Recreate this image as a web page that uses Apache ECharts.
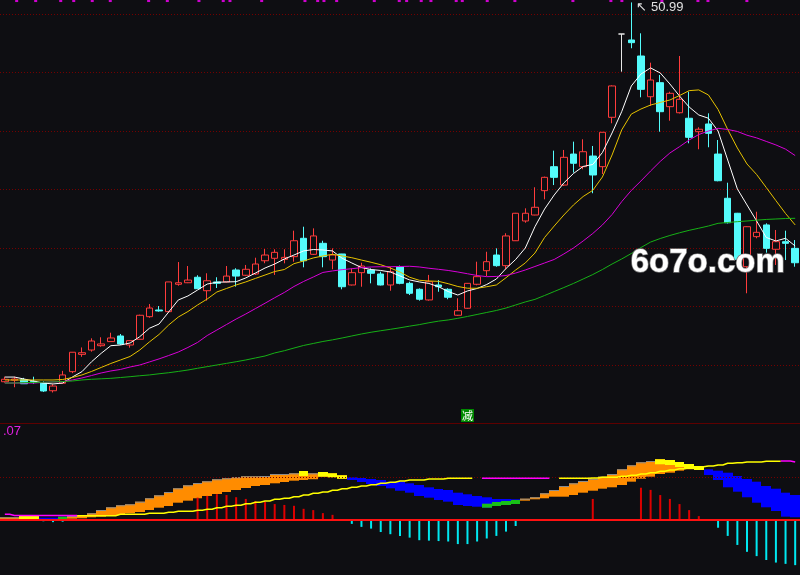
<!DOCTYPE html>
<html>
<head>
<meta charset="utf-8">
<title>K线 + 指标</title>
<script src="https://cdn.jsdelivr.net/npm/echarts@6/dist/echarts.min.js"></script>
<style>
  html, body { margin: 0; padding: 0; background: #0e0e12; }
  #chart { width: 800px; height: 575px; }
</style>
</head>
<body>
<div id="chart"></div>
<script>
// daily prices
const openP = [18.57,18.70,18.75,18.60,18.50,17.80,18.44,19.43,20.91,21.28,
  21.65,22.00,22.48,21.71,22.20,24.13,24.70,24.56,26.90,27.03,
  27.50,26.35,27.10,27.10,28.12,27.67,27.78,28.91,29.12,29.03,
  29.26,30.83,29.46,30.40,28.97,29.49,26.84,27.89,28.12,27.78,
  26.84,28.40,26.98,26.47,25.56,26.84,26.47,24.25,24.85,26.90,
  28.06,29.40,28.49,30.62,32.31,32.82,34.90,36.95,35.38,38.03,
  36.95,37.86,36.95,41.17,48.29,47.78,46.41,42.93,44.13,42.08,
  41.56,41.09,39.94,40.60,38.03,34.25,32.97,28.40,30.97,31.97,
  29.89,30.54,29.97]
const closeP = [18.78,18.80,18.40,18.50,17.78,18.20,19.15,21.09,21.05,22.05,
  21.80,22.31,21.80,22.08,24.25,24.87,24.62,27.10,27.03,27.26,
  26.52,27.20,26.98,27.60,27.60,28.18,28.63,29.40,29.63,29.20,
  30.62,28.91,31.03,29.26,29.40,26.69,27.89,28.46,27.84,26.84,
  27.97,26.98,26.13,25.62,27.12,26.69,25.79,24.64,26.98,27.55,
  28.83,28.49,31.03,32.97,32.97,33.48,36.04,36.04,37.75,37.24,
  38.23,36.24,39.89,43.85,48.29,47.55,43.56,44.36,41.65,43.22,
  42.71,39.46,40.15,39.80,35.75,32.16,29.03,31.82,31.34,29.97,
  30.54,30.40,28.74]
const lowP = [18.50,18.10,18.40,18.40,17.70,17.65,18.40,19.30,20.70,21.14,
  21.56,22.00,21.71,21.48,22.20,24.04,24.56,24.50,26.78,27.00,
  26.50,25.50,26.58,27.05,26.70,27.60,27.70,28.70,27.70,28.69,
  28.83,28.35,29.40,28.35,28.18,26.47,26.80,26.69,26.98,26.80,
  26.35,26.90,25.98,25.50,25.50,26.26,25.62,24.20,24.80,26.81,
  27.60,28.40,28.18,30.60,32.16,32.80,34.16,35.38,35.30,36.44,
  36.73,34.68,36.32,40.66,45.07,47.07,42.88,42.14,39.94,40.88,
  41.50,38.95,38.44,38.61,35.70,32.10,28.72,26.13,30.83,29.60,
  28.55,28.97,28.40]
const highP = [19.00,19.00,18.90,19.00,18.60,18.35,19.50,21.10,21.50,22.28,
  22.37,22.76,22.65,22.10,24.30,25.21,25.04,27.10,28.80,28.46,
  27.67,27.84,27.50,28.46,28.27,28.55,29.17,29.91,29.89,29.89,
  31.48,31.82,31.68,30.62,29.97,29.50,28.26,28.74,28.26,27.97,
  28.40,28.50,27.12,26.55,27.70,27.26,26.56,25.70,27.00,28.83,
  29.68,29.97,31.26,33.00,33.39,35.19,36.10,38.32,38.38,39.09,
  39.29,38.72,39.90,43.90,48.29,50.99,48.35,45.84,44.79,43.36,
  46.41,43.36,40.32,41.51,39.23,35.58,33.00,31.85,33.10,32.11,
  31.54,31.48,30.68]

// moving averages as drawn (white, yellow, magenta, green)
const ma5 = [18.97,18.97,18.80,18.63,18.46,18.38,18.46,18.97,19.43,20.28,
  21.00,21.65,21.71,21.88,22.42,23.14,23.50,24.53,25.56,25.90,
  26.41,26.92,27.07,27.10,27.12,27.44,27.86,28.29,28.63,29.06,
  29.40,29.75,29.87,29.83,29.75,29.12,28.72,28.33,28.16,28.08,
  27.95,27.61,27.27,27.10,26.97,26.69,26.28,25.98,26.33,26.54,
  26.88,27.35,28.25,29.02,30.00,31.82,33.33,34.53,35.56,36.37,
  36.97,37.14,38.16,39.83,41.65,43.85,44.87,45.39,44.96,44.02,
  42.99,42.05,41.37,41.09,40.00,37.52,35.05,33.68,32.31,30.90,
  30.60,30.83,30.17]
const ma10 = [18.72,18.72,18.72,18.72,18.72,18.72,18.76,18.93,19.15,19.45,
  19.79,20.13,20.43,20.73,21.28,21.97,22.61,23.42,24.10,24.57,
  25.13,25.64,26.24,26.54,26.84,27.10,27.40,27.69,27.99,28.16,
  28.66,28.89,29.15,29.32,29.46,29.32,29.17,28.97,28.78,28.57,
  28.29,27.95,27.50,27.24,27.18,27.15,26.95,26.71,26.56,26.56,
  26.69,26.84,27.46,28.12,28.72,29.57,30.90,31.88,32.82,33.68,
  34.40,34.93,36.07,37.95,40.09,41.45,41.88,42.22,42.44,42.65,
  43.03,43.45,43.51,43.08,41.84,40.13,38.55,37.18,36.28,35.17,
  34.05,32.95,31.97]
const ma20 = [18.46,18.46,18.46,18.46,18.51,18.55,18.58,18.72,18.89,19.10,
  19.32,19.49,19.62,19.83,20.00,20.26,20.52,20.81,21.11,21.50,
  21.93,22.52,22.99,23.46,23.93,24.36,24.82,25.28,25.75,26.20,
  26.71,27.14,27.52,27.91,28.04,28.15,28.23,28.32,28.38,28.40,
  28.40,28.42,28.44,28.38,28.27,28.18,28.08,27.95,27.80,27.65,
  27.55,27.57,27.65,27.86,28.12,28.42,28.72,29.02,29.49,30.00,
  30.60,31.24,31.97,32.86,33.96,34.92,35.73,36.58,37.40,38.12,
  38.66,39.23,39.70,40.00,40.23,40.13,39.96,39.64,39.41,39.11,
  38.81,38.45,37.90]
const ma60 = [18.46,18.46,18.49,18.51,18.53,18.55,18.59,18.63,18.72,18.78,
  18.82,18.86,18.93,19.00,19.08,19.15,19.25,19.34,19.45,19.57,
  19.72,19.86,20.00,20.14,20.28,20.43,20.60,20.77,21.03,21.22,
  21.45,21.67,21.84,22.01,22.15,22.31,22.48,22.65,22.80,22.93,
  23.05,23.18,23.32,23.45,23.61,23.75,23.85,23.99,24.15,24.32,
  24.49,24.66,24.87,25.13,25.39,25.61,25.94,26.28,26.62,26.97,
  27.35,27.73,28.16,28.63,29.06,29.53,30.04,30.51,30.81,31.07,
  31.30,31.51,31.69,31.88,32.11,32.18,32.25,32.31,32.38,32.44,
  32.48,32.52,32.54]

// magenta ticks along the top edge (position in candles)
const topMarks = [1.23,3.20,5.80,7.15,9.07,10.94,14.92,16.86,20.14,22.66,23.36,26.65,
  31.14,32.46,33.11,34.43,38.33,40.92,41.69,43.20,44.21,46.83,47.46,50.05,
  52.92,58.94,62.88,64.02,68.17,71.91,72.95,76.99]
const topMarkLevel = 51.15
const highLabel = { index: 65, price: 50.99 }

// lower panel: ribbon between two lines, o=orange b=blue y=yellow g=green
const ribbonTop = [0.063,0.063,0.093,0.093,0.053,0.053,0.077,0.093,0.116,0.156,
  0.233,0.295,0.342,0.365,0.426,0.505,0.574,0.651,0.737,0.807,
  0.860,0.900,0.947,0.970,0.993,1.016,1.016,1.023,1.070,1.070,
  1.086,1.140,1.086,1.116,1.086,1.040,0.993,0.977,0.953,0.930,
  0.891,0.890,0.853,0.814,0.760,0.721,0.698,0.635,0.598,0.558,
  0.528,0.488,0.488,0.481,0.495,0.528,0.621,0.698,0.791,0.853,
  0.907,0.960,1.007,1.070,1.179,1.272,1.342,1.372,1.412,1.395,
  1.349,1.302,1.256,1.179,1.147,1.100,1.023,0.953,0.891,0.791,
  0.728,0.635,0.581]
const ribbonBot = [0.016,0.016,0.016,0.016,0.016,0.016,-0.016,0.030,0.040,0.063,
  0.077,0.093,0.116,0.156,0.186,0.233,0.286,0.326,0.402,0.449,
  0.505,0.558,0.605,0.651,0.698,0.744,0.791,0.814,0.853,0.884,
  0.914,0.930,0.947,1.007,0.993,0.960,0.930,0.884,0.837,0.791,
  0.737,0.680,0.635,0.558,0.519,0.465,0.426,0.349,0.326,0.309,
  0.286,0.326,0.349,0.372,0.449,0.481,0.505,0.542,0.542,0.581,
  0.635,0.681,0.728,0.760,0.814,0.891,0.960,1.007,1.070,1.100,
  1.147,1.179,1.163,1.047,0.930,0.760,0.658,0.528,0.402,0.295,
  0.209,0.077,0.063]
const ribbonState = 'ooyybbgo' + 'ooooooooooooooooooooooo' + 'yoyyy' +
  'bbbbbbbbbbbbbb' + 'gggg' + 'oooooooooooooo' + 'yyyyy' + 'bbbbbbbbbb'

// signal line, y=yellow m=magenta -=not drawn
const sigLine = [0.133,0.105,0.105,0.105,0.105,0.105,0.105,0.105,0.100,0.100,
  0.100,0.100,0.133,0.133,0.133,0.156,0.156,0.179,0.202,0.202,
  0.226,0.249,0.286,0.319,0.342,0.379,0.412,0.442,0.481,0.505,
  0.542,0.581,0.621,0.651,0.691,0.728,0.760,0.791,0.821,0.853,
  0.877,0.907,0.930,0.930,0.953,0.953,0.970,0.970,0.970,null,
  0.970,0.970,0.970,0.970,0.970,0.970,0.970,null,0.970,0.970,
  0.970,0.977,0.993,0.993,1.016,1.040,1.070,1.100,1.133,1.163,
  1.193,1.216,1.240,1.256,1.279,1.319,1.333,1.349,1.349,1.365,
  1.365,1.372,1.349]
const sigState = 'mmmmmmmm' + 'yyyyyyyyyyyyyyyyyyyyyyyyyyyyyyyyyyyyyyyyy' + '-' +
  'mmmmmmm' + '-' + 'yyyyyyyyyyyyyyyyyyyyyyy' + 'mm'

const histo = [0,0,0,0,-0.03,-0.05,-0.04,0,0,0,
  0,0,0,0,0,0,0,0,0,0,
  0.52,0.56,0.60,0.58,0.53,0.49,0.44,0.42,0.37,0.35,
  0.33,0.26,0.23,0.16,0.12,-0.02,-0.09,-0.16,-0.20,-0.28,
  -0.33,-0.37,-0.41,-0.47,-0.48,-0.49,-0.50,-0.56,-0.56,-0.50,
  -0.43,-0.37,-0.27,-0.14,0,0,0,0,0,0,
  0,0.49,0,0,0,0,0.75,0.70,0.58,0.49,
  0.37,0.23,0.09,-0.01,-0.18,-0.37,-0.58,-0.74,-0.84,-0.93,
  -0.99,-1.02,-1.05]
const signalMark = { index: 48, value: 2.43, text: '减' }

const days = openP.map((_, i) => String(i + 1))
const BG = '#0e0e12'

const candles = openP.map((o, i) => {
  const v = [o, closeP[i], lowP[i], highP[i]]
  if (o === closeP[i]) {
    // flat day is drawn white
    return { value: v, itemStyle: { color: '#e6e6e6', borderColor: '#e6e6e6', borderColor0: '#e6e6e6' } }
  }
  return v
})

function lineSeries(data, color) {
  return {
    type: 'line', data: data, xAxisIndex: 0, yAxisIndex: 0,
    symbol: 'none', smooth: false, z: 4,
    lineStyle: { color: color, width: 1 }
  }
}

function sigSeries(code, color) {
  return {
    type: 'line', xAxisIndex: 1, yAxisIndex: 1, step: 'middle',
    symbol: 'none', z: 5, connectNulls: false,
    data: sigLine.map((v, i) => (sigState[i] === code ? v : null)),
    lineStyle: { color: color, width: 1.5 }
  }
}

function renderRibbon(params, api) {
  const i = api.value(0)
  const p1 = api.coord([i, api.value(1)])
  const p2 = api.coord([i, api.value(2)])
  const w = api.size([1, 0])[0]
  const x0 = Math.round(p1[0] - w / 2)
  const x1 = Math.round(p1[0] + w / 2)
  const h = Math.max(p2[1] - p1[1], 1)
  const st = ribbonState[params.dataIndex]
  const base = (st === 'b' || st === 'g') ? '#0000ff' : '#ff8c00'
  const kids = [{ type: 'rect', shape: { x: x0, y: p1[1], width: x1 - x0, height: h }, style: { fill: base } }]
  if (st === 'o') {
    kids.push({ type: 'rect', shape: { x: x0, y: p1[1], width: x1 - x0, height: 1 }, style: { fill: '#8c8c8c' } })
  }
  if (st === 'y') {
    kids.push({ type: 'rect', shape: { x: x0, y: p1[1], width: x1 - x0, height: Math.min(h, 5) }, style: { fill: '#ffff00' } })
  }
  if (st === 'g') {
    const gh = Math.min(h, 4)
    kids.push({ type: 'rect', shape: { x: x0, y: p1[1] + h - gh, width: x1 - x0, height: gh }, style: { fill: '#18c018' } })
  }
  return { type: 'group', children: kids }
}

const chart = echarts.init(document.getElementById('chart'))

const option = {
  backgroundColor: BG,
  animation: false,
  grid: [
    // the price pane runs past the top edge so that 50 sits on the first dotted line
    { left: 0, right: 0, top: -44.5, height: 468, outerBoundsMode: 'none', containLabel: false },
    { left: 0, right: 0, top: 405, height: 170, outerBoundsMode: 'none', containLabel: false }
  ],
  xAxis: [
    {
      type: 'category', gridIndex: 0, data: days, boundaryGap: true,
      axisLine: { show: true, onZero: false, lineStyle: { color: '#5e0000', width: 1 } },
      axisTick: { show: false }, axisLabel: { show: false }, splitLine: { show: false }
    },
    {
      type: 'category', gridIndex: 1, data: days, boundaryGap: true,
      axisLine: { show: false }, axisTick: { show: false }, axisLabel: { show: false }, splitLine: { show: false }
    },
    { type: 'value', gridIndex: 0, min: -0.5, max: 82.5, show: false }
  ],
  yAxis: [
    {
      type: 'value', gridIndex: 0, min: 15, max: 55, interval: 5,
      axisLine: { show: false }, axisTick: { show: false }, axisLabel: { show: false },
      splitLine: { show: true, lineStyle: { color: '#740000', width: 1, type: [1, 2] } }
    },
    {
      type: 'value', gridIndex: 1, min: -1.279, max: 2.674,
      axisLine: { show: false }, axisTick: { show: false }, axisLabel: { show: false },
      splitLine: { show: false }
    }
  ],
  series: [
    {
      type: 'candlestick', xAxisIndex: 0, yAxisIndex: 0, data: candles,
      barWidth: 7, z: 3,
      itemStyle: {
        color: BG, color0: '#54fcfc',
        borderColor: '#ff3c3c', borderColor0: '#54fcfc', borderWidth: 1
      },
      markPoint: {
        silent: true, symbol: 'circle', symbolSize: 0,
        data: [{
          coord: [highLabel.index, highLabel.price],
          label: {
            show: true, position: 'right', offset: [0, 5],
            formatter: '↖ ' + highLabel.price.toFixed(2),
            color: '#e0e0e0', fontSize: 13, fontFamily: 'Liberation Sans'
          }
        }]
      }
    },
    lineSeries(ma5, '#ffffff'),
    lineSeries(ma10, '#e6c200'),
    lineSeries(ma20, '#d800d8'),
    lineSeries(ma60, '#16b016'),
    {
      type: 'scatter', xAxisIndex: 2, yAxisIndex: 0, symbol: 'rect', symbolSize: [3, 3],
      data: topMarks.map(p => [p, topMarkLevel]),
      itemStyle: { color: '#ff00ff' }, silent: true
    },
    {
      type: 'custom', xAxisIndex: 1, yAxisIndex: 1, renderItem: renderRibbon,
      data: ribbonTop.map((t, i) => [i, t, ribbonBot[i]]), z: 2, silent: true
    },
    sigSeries('y', '#ffff00'),
    sigSeries('m', '#ff00ff'),
    {
      type: 'bar', xAxisIndex: 1, yAxisIndex: 1, data: histo, barWidth: 2, z: 3,
      itemStyle: { color: p => (p.value >= 0 ? '#dd0000' : '#00e8f0') },
      markLine: {
        silent: true, symbol: 'none', label: { show: false },
        data: [
          { yAxis: 0, lineStyle: { color: '#ff1010', width: 2, type: 'solid' } },
          { yAxis: 1, lineStyle: { color: '#740000', width: 1, type: [1, 2] } }
        ]
      },
      markPoint: {
        silent: true, symbol: 'rect', symbolSize: 13,
        itemStyle: { color: '#008a00' },
        label: { show: true, color: '#ffffff', fontSize: 11, fontFamily: 'Noto Sans CJK SC' },
        data: [{ coord: [signalMark.index, signalMark.value], value: signalMark.text }]
      }
    }
  ],
  graphic: [
    {
      type: 'text', left: 3, top: 425, silent: true,
      style: { text: '.07', fill: '#e020e0', font: '13px "Liberation Sans"' }
    },
    {
      type: 'text', left: 630, top: 246, silent: true, z: 100,
      style: {
        text: '6o7o.com', fill: '#ffffff', font: 'bold 33px "Liberation Sans"',
        stroke: '#7a7a7a', lineWidth: 1.5
      }
    }
  ]
}

chart.setOption(option)
</script>
</body>
</html>
